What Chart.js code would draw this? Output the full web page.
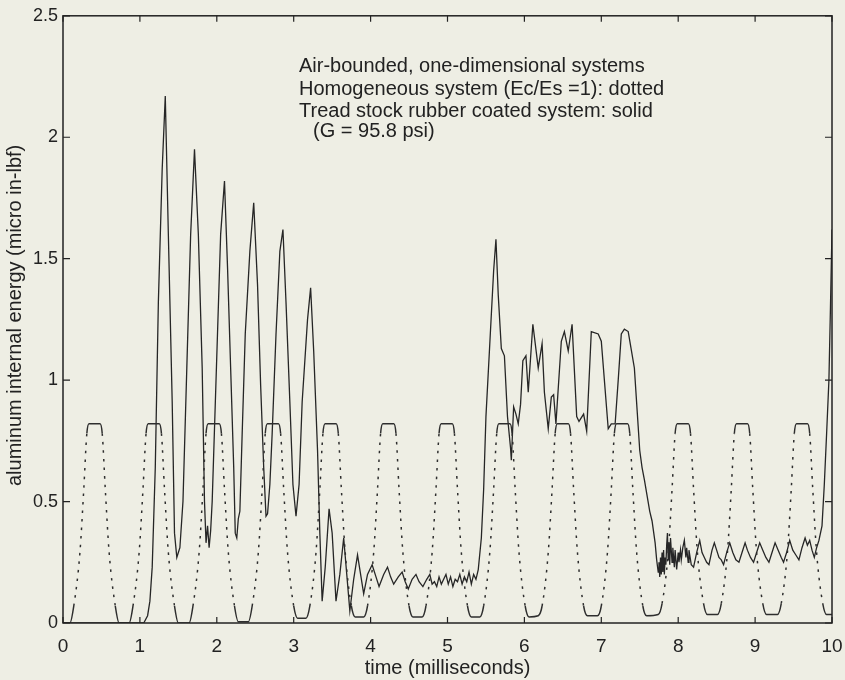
<!DOCTYPE html>
<html>
<head>
<meta charset="utf-8">
<script src="https://cdn.jsdelivr.net/npm/chart.js@4.4.1/dist/chart.umd.min.js"></script>
<style>
  html, body { margin: 0; padding: 0; background: #eeeee4; }
  #wrap { width: 845px; height: 680px; }
</style>
</head>
<body>
<div id="wrap"><canvas id="energyChart" width="845" height="680"></canvas></div>
<script>
// axis ticks
const xTickLabels = ['0', '1', '2', '3', '4', '5', '6', '7', '8', '9', '10'];
const yTickLabels = ['0', '0.5', '1', '1.5', '2', '2.5'];

const noteLines = [
    'Air-bounded, one-dimensional systems',
    'Homogeneous system (Ec/Es =1): dotted',
    'Tread stock rubber coated system: solid',
    '(G = 95.8 psi)'
];

// homogeneous system (dotted)
const dotTime = [
    0,
    0.09, 0.14, 0.22, 0.27, 0.31, 0.338, 0.482, 0.51, 0.55, 0.60, 0.68, 0.73,
    0.86, 0.91, 0.99, 1.04, 1.08, 1.108, 1.252, 1.28, 1.32, 1.37, 1.45, 1.50,
    1.64, 1.69, 1.77, 1.82, 1.86, 1.888, 2.032, 2.06, 2.10, 2.15, 2.23, 2.28,
    2.41, 2.46, 2.54, 2.59, 2.63, 2.658, 2.802, 2.83, 2.87, 2.92, 3.00, 3.05,
    3.16, 3.21, 3.29, 3.34, 3.38, 3.408, 3.552, 3.58, 3.62, 3.67, 3.75, 3.80,
    3.91, 3.96, 4.04, 4.09, 4.13, 4.158, 4.302, 4.33, 4.37, 4.42, 4.50, 4.55,
    4.67, 4.72, 4.80, 4.85, 4.89, 4.918, 5.062, 5.09, 5.13, 5.18, 5.26, 5.31,
    5.42, 5.47, 5.55, 5.60, 5.64, 5.668, 5.812, 5.84, 5.88, 5.93, 6.01, 6.06,
    6.18, 6.23, 6.31, 6.36, 6.40, 6.428, 6.572, 6.60, 6.64, 6.69, 6.77, 6.82,
    6.95, 7.00, 7.08, 7.13, 7.17, 7.198, 7.342, 7.37, 7.41, 7.46, 7.54, 7.59,
    7.74, 7.79, 7.87, 7.92, 7.96, 7.988, 8.132, 8.16, 8.20, 8.25, 8.33, 8.38,
    8.51, 8.56, 8.64, 8.69, 8.73, 8.758, 8.902, 8.93, 8.97, 9.02, 9.10, 9.15,
    9.29, 9.34, 9.42, 9.47, 9.51, 9.538, 9.682, 9.71, 9.75, 9.80, 9.88, 9.93,
    10.0
];
const dotEnergy = [
    0,
    0, 0.07, 0.29, 0.55, 0.78, 0.82, 0.82, 0.78, 0.55, 0.29, 0.07, 0,
    0, 0.07, 0.29, 0.55, 0.78, 0.82, 0.82, 0.78, 0.55, 0.29, 0.07, 0,
    0, 0.07, 0.29, 0.55, 0.78, 0.82, 0.82, 0.78, 0.55, 0.29, 0.07, 0.005,
    0.005, 0.07, 0.29, 0.55, 0.78, 0.82, 0.82, 0.78, 0.55, 0.29, 0.07, 0.02,
    0.02, 0.07, 0.29, 0.55, 0.78, 0.82, 0.82, 0.78, 0.55, 0.29, 0.07, 0.025,
    0.025, 0.07, 0.29, 0.55, 0.78, 0.82, 0.82, 0.78, 0.55, 0.29, 0.07, 0.025,
    0.025, 0.07, 0.29, 0.55, 0.78, 0.82, 0.82, 0.78, 0.55, 0.29, 0.07, 0.025,
    0.025, 0.07, 0.29, 0.55, 0.78, 0.82, 0.82, 0.78, 0.55, 0.29, 0.07, 0.025,
    0.03, 0.07, 0.29, 0.55, 0.78, 0.82, 0.82, 0.78, 0.55, 0.29, 0.07, 0.03,
    0.03, 0.07, 0.29, 0.55, 0.78, 0.82, 0.82, 0.78, 0.55, 0.29, 0.07, 0.03,
    0.035, 0.08, 0.29, 0.55, 0.78, 0.82, 0.82, 0.78, 0.55, 0.29, 0.08, 0.035,
    0.035, 0.08, 0.29, 0.55, 0.78, 0.82, 0.82, 0.78, 0.55, 0.29, 0.08, 0.035,
    0.035, 0.08, 0.29, 0.55, 0.78, 0.82, 0.82, 0.78, 0.55, 0.29, 0.08, 0.035,
    0.035
];

// tread stock rubber coated system (solid)
const solidTime = [
    0, 1.05, 1.10, 1.13, 1.16, 1.20, 1.24, 1.29, 1.33, 1.37, 1.42, 1.45, 1.48, 1.50, 1.52, 1.56, 1.61, 1.66, 1.71,
    1.76, 1.81, 1.84, 1.86, 1.88, 1.90, 1.92, 1.94, 1.97, 2.01, 2.05, 2.10,
    2.14, 2.18, 2.22, 2.24, 2.26, 2.28, 2.30, 2.33, 2.37, 2.43, 2.48,
    2.53, 2.57, 2.61, 2.64, 2.66, 2.69, 2.72, 2.77, 2.82, 2.86,
    2.90, 2.95, 2.99, 3.03, 3.07, 3.11, 3.18, 3.22,
    3.26, 3.31, 3.34, 3.37, 3.41, 3.46, 3.50, 3.55, 3.60, 3.65, 3.69, 3.73, 3.78, 3.83, 3.87, 3.91,
    3.96, 4.02, 4.07, 4.11, 4.17, 4.22, 4.26, 4.30, 4.36, 4.41, 4.45, 4.49, 4.54, 4.59, 4.63, 4.68,
    4.73, 4.77, 4.80, 4.83, 4.86, 4.89, 4.92, 4.95, 4.98, 5.01, 5.04, 5.07, 5.10, 5.13, 5.16, 5.19,
    5.22, 5.25, 5.28, 5.31, 5.34, 5.37, 5.40, 5.44, 5.47, 5.50, 5.55, 5.60, 5.63,
    5.66, 5.70, 5.74, 5.78, 5.82, 5.83, 5.86, 5.89, 5.92, 5.95, 5.98, 6.02, 6.05, 6.11, 6.18, 6.23,
    6.26, 6.31, 6.35, 6.38, 6.41, 6.48, 6.52, 6.57, 6.62, 6.68, 6.71, 6.77, 6.81, 6.87, 6.96, 7.00,
    7.09, 7.13, 7.18, 7.22, 7.26, 7.30, 7.35, 7.43, 7.50, 7.53, 7.56, 7.63, 7.66, 7.70, 7.72, 7.74,
    7.75, 7.76, 7.77, 7.78, 7.79, 7.80, 7.81, 7.82, 7.83, 7.84, 7.85, 7.86, 7.87, 7.88, 7.89, 7.90,
    7.92, 7.93, 7.95, 7.96, 7.98, 8.00, 8.01, 8.03, 8.04, 8.06, 8.08, 8.10, 8.11, 8.13, 8.14,
    8.17, 8.20, 8.24, 8.28, 8.31, 8.34, 8.37, 8.40, 8.44, 8.47, 8.50, 8.53, 8.56, 8.59, 8.63, 8.67,
    8.71, 8.75, 8.79, 8.83, 8.87, 8.90, 8.94, 8.98, 9.02, 9.06, 9.10, 9.14, 9.18, 9.22, 9.26, 9.30,
    9.34, 9.37, 9.41, 9.45, 9.49, 9.53, 9.57, 9.61, 9.65, 9.68, 9.71, 9.74, 9.77, 9.80, 9.83, 9.87,
    9.90, 9.93, 9.96, 9.98, 10.0
];
const solidEnergy = [
    0, 0, 0.03, 0.09, 0.23, 0.64, 1.32, 1.87, 2.17, 1.6, 0.91, 0.37, 0.27, 0.29, 0.31, 0.5, 1.05, 1.6, 1.95,
    1.6, 1.05, 0.5, 0.33, 0.4, 0.31, 0.38, 0.5, 0.8, 1.2, 1.6, 1.82,
    1.46, 1.05, 0.64, 0.37, 0.35, 0.43, 0.46, 0.78, 1.19, 1.53, 1.73,
    1.39, 0.98, 0.64, 0.44, 0.45, 0.57, 0.78, 1.19, 1.53, 1.62,
    1.32, 0.91, 0.57, 0.44, 0.57, 0.91, 1.25, 1.38,
    1.12, 0.71, 0.37, 0.09, 0.23, 0.47, 0.37, 0.09, 0.2, 0.35, 0.2, 0.05, 0.18, 0.28, 0.2, 0.12,
    0.2, 0.24, 0.19, 0.15, 0.2, 0.23, 0.19, 0.16, 0.19, 0.21, 0.17, 0.14, 0.18, 0.2, 0.17, 0.15,
    0.18, 0.2, 0.16, 0.17, 0.15, 0.19, 0.16, 0.18, 0.2, 0.16, 0.19, 0.15, 0.18, 0.17, 0.2, 0.16,
    0.19, 0.17, 0.21, 0.16, 0.2, 0.18, 0.22, 0.35, 0.55, 0.85, 1.15, 1.45, 1.58,
    1.35, 1.13, 1.1, 0.85, 0.72, 0.67, 0.89, 0.86, 0.82, 0.9, 1.08, 1.1, 0.95, 1.23, 1.05, 1.15,
    0.95, 0.8, 0.93, 0.94, 0.82, 1.16, 1.2, 1.12, 1.23, 0.85, 0.83, 0.86, 0.79, 1.2, 1.19, 1.16,
    0.8, 0.82, 0.82, 1.0, 1.19, 1.21, 1.2, 1.05, 0.71, 0.64, 0.59, 0.46, 0.42, 0.33, 0.26, 0.21,
    0.25, 0.19, 0.27, 0.2, 0.29, 0.21, 0.3, 0.2, 0.27, 0.24, 0.32, 0.37, 0.26, 0.33, 0.24, 0.35,
    0.25, 0.31, 0.23, 0.3, 0.22, 0.29, 0.25, 0.3, 0.26, 0.31, 0.34, 0.27, 0.31, 0.25, 0.3,
    0.24, 0.23, 0.29, 0.34, 0.29, 0.27, 0.25, 0.24, 0.3, 0.33, 0.3, 0.27, 0.26, 0.24, 0.29, 0.33,
    0.29, 0.26, 0.25, 0.29, 0.33, 0.3, 0.27, 0.25, 0.29, 0.33, 0.3, 0.27, 0.25, 0.29, 0.33, 0.3,
    0.27, 0.25, 0.29, 0.34, 0.3, 0.28, 0.26, 0.31, 0.35, 0.32, 0.34, 0.3, 0.27, 0.31, 0.34, 0.4,
    0.57, 0.78, 1.0, 1.3, 1.62
];

const ink = '#222222';
const paper = '#eeeee4';
const font = 'Liberation Sans';

const dotPoints = dotTime.map((t, i) => ({ x: t, y: dotEnergy[i] }));
const solidPoints = solidTime.map((t, i) => ({ x: t, y: solidEnergy[i] }));

// paper background, box, inward ticks, axis titles and the note
const framePlugin = {
    id: 'frame',
    beforeDraw(chart) {
        const c = chart.ctx;
        c.save();
        c.fillStyle = paper;
        c.fillRect(0, 0, chart.width, chart.height);
        c.restore();
    },
    afterDatasetsDraw(chart) {
        const c = chart.ctx;
        const a = chart.chartArea;
        const xs = chart.scales.x;
        const ys = chart.scales.y;
        c.save();
        c.strokeStyle = ink;
        c.lineWidth = 1.5;
        c.strokeRect(a.left, a.top, a.right - a.left, a.bottom - a.top);
        c.lineWidth = 1.2;
        c.beginPath();
        xTickLabels.forEach(lab => {
            const px = xs.getPixelForValue(Number(lab));
            c.moveTo(px, a.bottom); c.lineTo(px, a.bottom - 6);
            c.moveTo(px, a.top); c.lineTo(px, a.top + 6);
        });
        yTickLabels.forEach(lab => {
            const py = ys.getPixelForValue(Number(lab));
            c.moveTo(a.left, py); c.lineTo(a.left + 7, py);
            c.moveTo(a.right, py); c.lineTo(a.right - 7, py);
        });
        c.stroke();

        c.fillStyle = ink;
        c.font = '20px "' + font + '"';
        c.textAlign = 'center';
        c.textBaseline = 'middle';
        c.fillText('time (milliseconds)', (a.left + a.right) / 2, 668);
        c.save();
        c.translate(15, (a.top + a.bottom) / 2 - 4);
        c.rotate(-Math.PI / 2);
        c.fillText('aluminum internal energy (micro in-lbf)', 0, 0);
        c.restore();

        c.textAlign = 'left';
        c.textBaseline = 'alphabetic';
        const noteX = [299, 299, 299, 313];
        const noteY = [72, 95, 117, 137];
        noteLines.forEach((line, i) => c.fillText(line, noteX[i], noteY[i]));
        c.restore();
    }
};

const ctx = document.getElementById('energyChart').getContext('2d');
const energyChart = new Chart(ctx, {
    type: 'line',
    data: {
        datasets: [{
            label: 'Homogeneous system (dotted)',
            data: dotPoints,
            borderColor: '#2e2e2e',
            borderWidth: 1.5,
            borderDash: [2.5, 6],
            cubicInterpolationMode: 'monotone',
            segment: {
                // flat tops and floors print as a solid stroke
                borderDash: s => (Math.abs(s.p1.parsed.y - s.p0.parsed.y) < 0.08 ? [] : [2.5, 6])
            },
            pointRadius: 0,
            fill: false
        }, {
            label: 'Tread stock rubber coated system (solid)',
            data: solidPoints,
            borderColor: '#262626',
            borderWidth: 1.3,
            tension: 0,
            pointRadius: 0,
            fill: false
        }]
    },
    options: {
        responsive: false,
        animation: false,
        layout: { padding: { top: 13, right: 13, left: 0, bottom: 0 } },
        plugins: {
            legend: { display: false },
            tooltip: { enabled: false }
        },
        scales: {
            x: {
                type: 'linear',
                min: 0,
                max: 10,
                afterFit: s => { s.height = 57; },
                grid: { display: false, drawTicks: true, tickLength: 10 },
                border: { display: false },
                ticks: {
                    stepSize: 1,
                    padding: 2,
                    color: ink,
                    font: { family: font, size: 19 },
                    maxRotation: 0,
                    callback: (v, i) => xTickLabels[i]
                }
            },
            y: {
                type: 'linear',
                min: 0,
                max: 2.5,
                afterFit: s => { s.width = 63; },
                grid: { display: false, drawTicks: false },
                border: { display: false },
                ticks: {
                    stepSize: 0.5,
                    padding: 5,
                    color: ink,
                    font: { family: font, size: 18 },
                    callback: (v, i) => yTickLabels[i]
                }
            }
        }
    },
    plugins: [framePlugin]
});
</script>
</body>
</html>
